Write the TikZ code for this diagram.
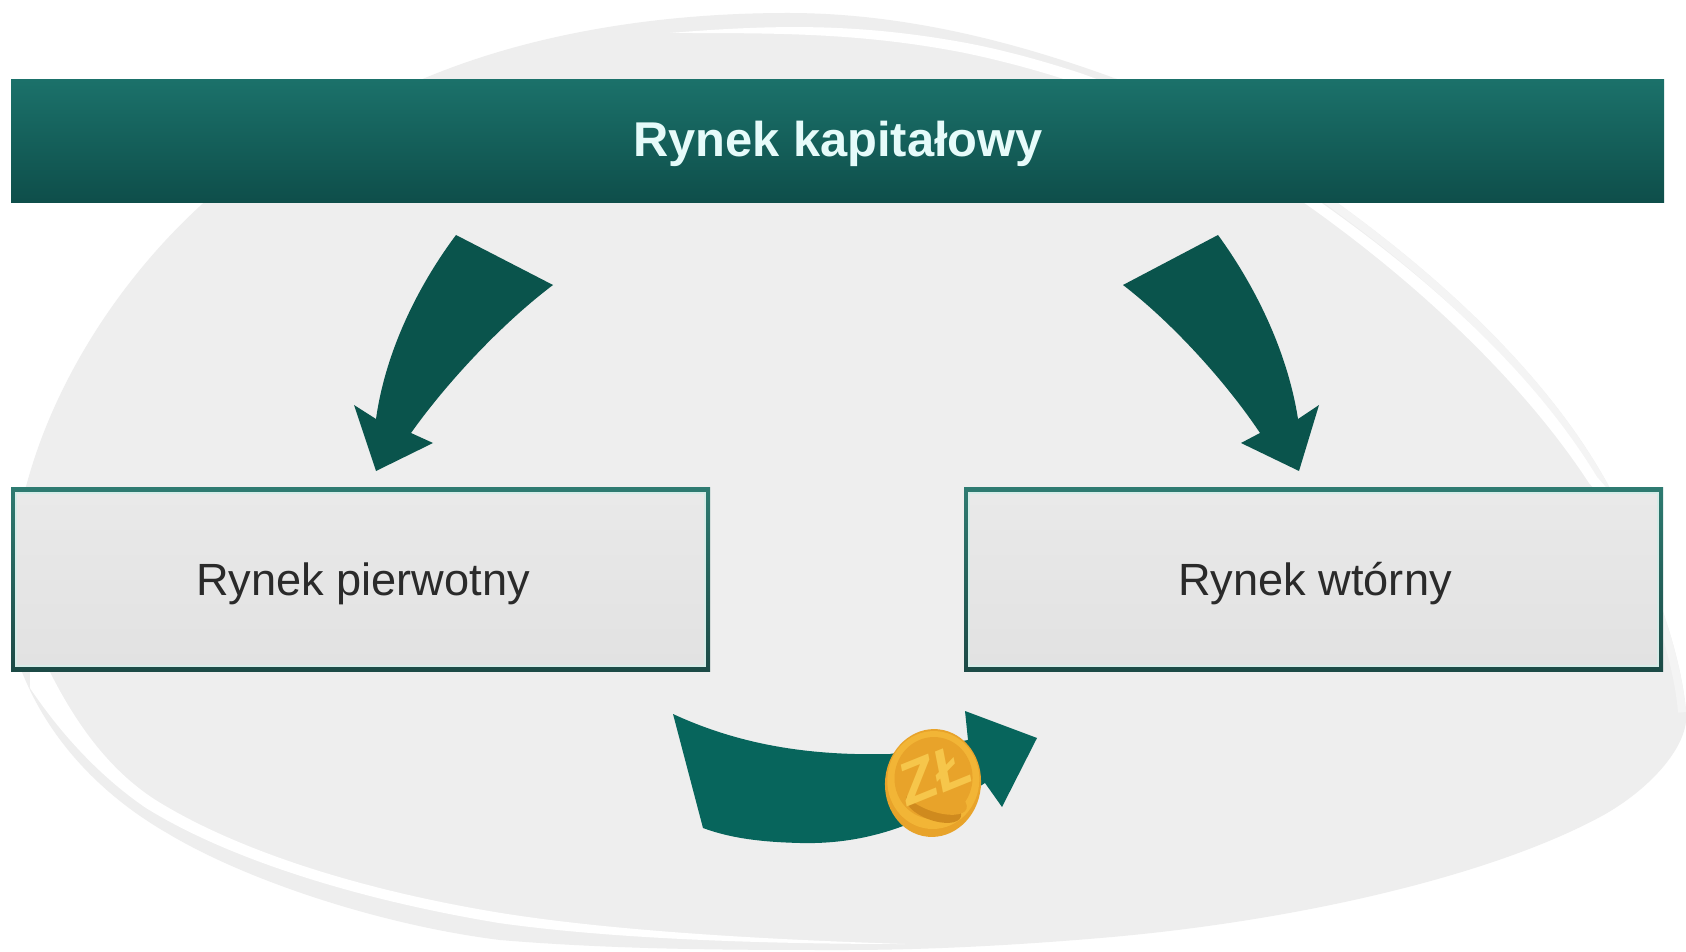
\documentclass[tikz,border=0pt]{standalone}
\usepackage{fontspec}
\setmainfont{Liberation Sans}
\definecolor{blobgray}{HTML}{EEEEEE}
\definecolor{blobpale}{HTML}{F4F4F4}
\definecolor{bartop}{HTML}{1B716A}
\definecolor{barbot}{HTML}{0E4E4A}
\definecolor{arrdark}{HTML}{0A544C}
\definecolor{arrmid}{HTML}{07655C}
\definecolor{edgetop}{HTML}{2E7B71}
\definecolor{edgebot}{HTML}{1C4A46}
\definecolor{txt}{HTML}{2A2A2A}
\definecolor{titletxt}{HTML}{E6FBFA}
\definecolor{coinA}{HTML}{F2B536}
\definecolor{coinB}{HTML}{E8A32A}
\definecolor{coinC}{HTML}{CF8A1E}
\definecolor{coinT}{HTML}{F6C64B}
\definecolor{faceA}{HTML}{E9E9E9}
\definecolor{faceB}{HTML}{E2E2E2}
\definecolor{halo}{HTML}{D6ECE8}
\newcommand{\blobshape}{(788,13) .. controls (900,13) and (1010,40) .. (1114,78)
 .. controls (1200,110) and (1280,160) .. (1343,207)
 .. controls (1450,285) and (1550,380) .. (1607,483)
 .. controls (1640,545) and (1680,640) .. (1686,712)
 .. controls (1690,745) and (1650,790) .. (1600,817)
 .. controls (1490,876) and (1300,920) .. (1112,937)
 .. controls (1020,945) and (930,950) .. (843,950)
 .. controls (740,950) and (620,950) .. (500,940)
 .. controls (380,925) and (245,880) .. (167,833)
 .. controls (120,806) and (55,755) .. (22,672)
 .. controls (10,610) and (10,540) .. (27,483)
 .. controls (55,380) and (120,280) .. (199,207)
 .. controls (270,140) and (350,110) .. (425,78)
 .. controls (540,30) and (670,13) .. (788,13) -- cycle}
\tikzset{
  blockarrow/.style={fill=arrdark,draw=none},
  barnode/.style={rectangle,draw=none,minimum width=0.02cm*1653,minimum height=0.02cm*123,inner sep=0pt,top color=bartop,bottom color=barbot},
  boxedge/.style={rectangle,draw=none,minimum width=0.02cm*699,minimum height=0.02cm*184,inner sep=0pt,top color=edgetop,bottom color=edgebot},
  boxface/.style={rectangle,draw=halo,line width=0.02cm*2,minimum width=0.02cm*689,minimum height=0.02cm*173,inner sep=0pt,top color=faceA,bottom color=faceB},
  titlefont/.style={text=titletxt,font=\fontsize{27.8}{32}\selectfont\bfseries},
  labelfont/.style={text=txt,font=\fontsize{25.7}{30}\selectfont}
}
\begin{document}
\begin{tikzpicture}[x=0.02cm,y=-0.02cm]
\clip (0,0) rectangle (1686,952);
\fill[white] (0,0) rectangle (1686,952);
% background blob
\fill[blobgray] \blobshape;
\begin{scope}
 \clip \blobshape;
 \draw[blobpale,line width=0.02cm*16] (1114,78)
  .. controls (1200,110) and (1280,160) .. (1343,207)
  .. controls (1450,285) and (1550,380) .. (1607,483)
  .. controls (1640,545) and (1680,640) .. (1686,712);
\end{scope}
% white swooshes (tapered)
\fill[white] (670,33) .. controls (780,24) and (860,24) .. (961,42)
  .. controls (1000,49) and (1040,60) .. (1080,73)
  .. controls (1165,103) and (1250,150) .. (1323,204)
  .. controls (1435,283) and (1535,375) .. (1597,477)
  .. controls (1640,525) and (1680,590) .. (1682,680)
  .. controls (1668,590) and (1630,530) .. (1589,483)
  .. controls (1525,385) and (1425,290) .. (1317,212)
  .. controls (1245,160) and (1160,112) .. (1076,83)
  .. controls (1040,71) and (1000,60) .. (960,52)
  .. controls (860,33) and (780,33) .. (670,33) -- cycle;
\fill[white] (30,660) -- (30,688) .. controls (65,740) and (105,780) .. (146,808)
  .. controls (230,860) and (360,900) .. (499,923)
  .. controls (620,940) and (780,944) .. (905,944)
  .. controls (780,940) and (620,932) .. (501,913)
  .. controls (360,890) and (235,850) .. (154,799)
  .. controls (110,770) and (75,725) .. (44,660) -- cycle;
% top bar
\node[barnode] (bar) at (837.5,141.5) {};
\node[titlefont,anchor=base] (bartext) at (838,157) {Rynek kapitałowy};
% boxes
\node[boxedge] (leftedge) at (360.5,579) {};
\node[boxface] (leftface) at (leftedge.center) {};
\node[labelfont,anchor=base] (lefttext) at (363,595) {Rynek pierwotny};
\node[boxedge] (rightedge) at (1313.5,579) {};
\node[boxface] (rightface) at (rightedge.center) {};
\node[labelfont,anchor=base] (righttext) at (1315,595) {Rynek wtórny};
% left block arrow
\fill[blockarrow] (456,235) -- (553,285)
  .. controls (500,325) and (445,385) .. (411,433)
  -- (433,443) -- (376,471) -- (354,405) -- (376,419)
  .. controls (385,355) and (415,290) .. (456,235) -- cycle;
% right block arrow
\fill[blockarrow] (1218,235) -- (1123,285)
  .. controls (1175,325) and (1228,385) .. (1260,433)
  -- (1241,443) -- (1299,471) -- (1319,405) -- (1298,419)
  .. controls (1288,355) and (1258,290) .. (1218,235) -- cycle;
% bottom block arrow
\fill[arrmid] (673,714) .. controls (740,745) and (810,756) .. (890,754)
  -- (968,740) -- (965,711) -- (1037,738) -- (1002,807) -- (985,783)
  .. controls (935,815) and (880,845) .. (800,843)
  .. controls (760,842) and (730,838) .. (703,828) -- cycle;
% coin
\begin{scope}[shift={(933,783)},rotate=-6]
 \fill[coinB] (0,0) ellipse [x radius=48,y radius=54];
 \fill[coinA] (0,-3) ellipse [x radius=46,y radius=49];
 \fill[coinB] (0,-5) ellipse [x radius=39,y radius=41];
 \fill[coinC,rotate around={-14:(3,24)}] (3,24) ellipse [x radius=29,y radius=13];
 \fill[coinB,rotate around={-14:(3,14)}] (3,14) ellipse [x radius=34,y radius=14];
\end{scope}
\node[rotate=22,text=coinT,font=\fontsize{34}{36}\selectfont\bfseries\itshape,inner sep=0pt] (cointext) at (935,774) {ZŁ};
\end{tikzpicture}
\end{document}
